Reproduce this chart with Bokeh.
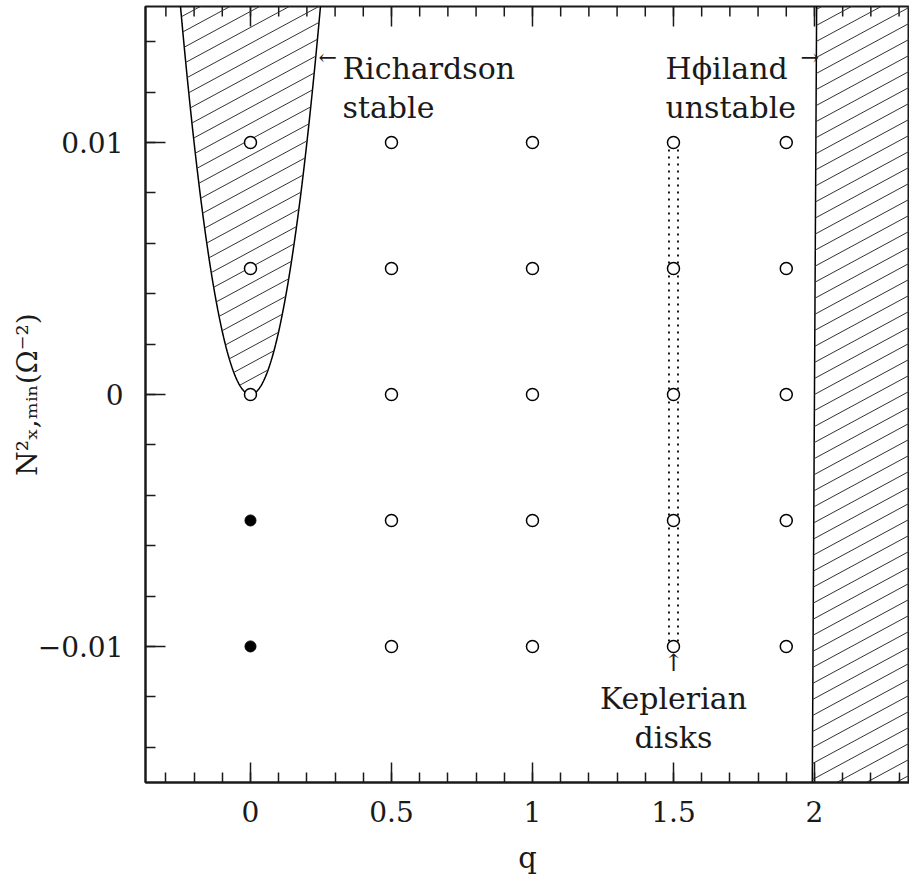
import numpy as np
from bokeh.plotting import figure
from bokeh.models import Range1d, FixedTicker, Label
from bokeh.embed import file_html
from bokeh.resources import INLINE

# ---- data ----
q_grid = [0, 0.5, 1, 1.5, 1.9]
n2_grid = [-0.01, -0.005, 0, 0.005, 0.01]
filled_q = [0, 0]
filled_n2 = [-0.005, -0.01]
x_ticks = [0, 0.5, 1, 1.5, 2]
x_tick_labels = ["0", "0.5", "1", "1.5", "2"]
y_ticks = [-0.01, 0, 0.01]
y_tick_labels = ["\u22120.01", "0", "0.01"]
kepler_q = 1.5
richardson_coeff = 0.25      # Richardson boundary: N^2 = q^2 / 4
hoiland_q0 = 2.0             # Hoiland boundary: q = 2 + N^2 / 2
hoiland_coeff = 0.5

X_MIN, X_MAX = -0.3723, 2.337
Y_MIN, Y_MAX = -0.0154, 0.0154
PX_PER_Y = 776.0 / (Y_MAX - Y_MIN)
FONT = "DejaVu Serif"
INK = "#1a1a1a"

p = figure(width=909, height=879, output_backend="svg", toolbar_location=None,
           x_range=Range1d(X_MIN, X_MAX), y_range=Range1d(Y_MIN, Y_MAX),
           min_border_left=145, min_border_right=0, min_border_top=6,
           min_border_bottom=97)
p.outline_line_color = INK
p.outline_line_width = 2
p.grid.visible = False
p.background_fill_color = "white"
p.border_fill_color = "white"

x_minor = [round(v, 2) for v in np.arange(-0.3, 2.41, 0.1)]
y_minor = [round(v, 4) for v in np.arange(-0.014, 0.0141, 0.002)]

def style_axis(ax, major, minor, labels):
    ax.ticker = FixedTicker(ticks=major, minor_ticks=minor)
    ax.major_tick_in = 20
    ax.major_tick_out = 0
    ax.minor_tick_in = 10
    ax.minor_tick_out = 0
    ax.axis_line_width = 2
    ax.axis_line_color = INK
    ax.major_tick_line_width = 1.5
    ax.major_tick_line_color = INK
    ax.minor_tick_line_width = 1.5
    ax.minor_tick_line_color = INK
    ax.major_label_text_font = FONT
    ax.major_label_text_font_size = "28px"
    ax.major_label_text_color = INK
    ax.major_label_overrides = {t: l for t, l in zip(major, labels)}
    ax.axis_label_text_font = FONT
    ax.axis_label_text_font_style = "normal"
    ax.axis_label_text_color = INK

xa = p.xaxis[0]
style_axis(xa, x_ticks, x_minor, x_tick_labels)
xa.major_label_standoff = 18
xa.axis_label = "q"
xa.axis_label_text_font_size = "29px"
xa.axis_label_standoff = 16

ya = p.yaxis[0]
style_axis(ya, y_ticks, y_minor, y_tick_labels)
ya.major_label_standoff = 22
ya.axis_label = "N\u00b2\u2093,\u2098\u1d62\u2099(\u03a9\u207b\u00b2)"
ya.axis_label_text_font_size = "28px"
ya.axis_label_standoff = -9

# top-edge ticks (inward), drawn from the same tick arrays
major_len = 20.0 / PX_PER_Y
minor_len = 10.0 / PX_PER_Y
p.segment(x0=x_ticks, y0=[Y_MAX] * len(x_ticks), x1=x_ticks,
          y1=[Y_MAX - major_len] * len(x_ticks), line_color=INK, line_width=1.5)
p.segment(x0=x_minor, y0=[Y_MAX] * len(x_minor), x1=x_minor,
          y1=[Y_MAX - minor_len] * len(x_minor), line_color=INK, line_width=1.5)

# ---- stability boundaries ----
qq = np.linspace(-0.3, 0.3, 200)
p.line(qq, richardson_coeff * qq ** 2, line_color="black", line_width=1.5)
nn = np.linspace(-0.02, 0.02, 50)
p.line(hoiland_q0 + hoiland_coeff * nn, nn, line_color="black", line_width=1.5)

# hatch lines (slope in data units, vertical spacing)
s = 0.54 * 282.0 / PX_PER_Y
dc = 16.0 / PX_PER_Y
xs, ys = [], []
for c in np.arange(-s * s + 1e-7, 0.03, dc):          # above the parabola
    r = 2 * np.sqrt(s * s + c)
    q1, q2 = 2 * s - r, 2 * s + r
    xs.append([q1, q2]); ys.append([c + s * q1, c + s * q2])
for c in np.arange(-0.03 - s * 2.5, 0.03, dc):        # right of Hoiland line
    q1 = (hoiland_q0 + hoiland_coeff * c) / (1 - hoiland_coeff * s)
    q2 = 2.6
    xs.append([q1, q2]); ys.append([c + s * q1, c + s * q2])
p.multi_line(xs, ys, line_color="#333333", line_width=1)

# Keplerian dotted guides
p.segment(x0=[kepler_q - 0.016, kepler_q + 0.016], y0=[n2_grid[-1]] * 2,
          x1=[kepler_q - 0.016, kepler_q + 0.016], y1=[n2_grid[0]] * 2,
          line_color="black", line_width=1.8, line_dash="2 5")

# ---- points ----
open_q, open_n2 = [], []
for qv in q_grid:
    for nv in n2_grid:
        if any(qv == fq and nv == fn for fq, fn in zip(filled_q, filled_n2)):
            continue
        open_q.append(qv); open_n2.append(nv)
p.scatter(open_q, open_n2, marker="circle", size=12, fill_color="white",
          line_color="black", line_width=1.5)
p.scatter(filled_q, filled_n2, marker="circle", size=11, fill_color="black",
          line_color="black", line_width=1)

# ---- annotations ----
def lab(x, y, text, size, align="left", baseline="alphabetic"):
    p.add_layout(Label(x=x, y=y, text=text, text_font=FONT,
                       text_font_size=size, text_align=align,
                       text_baseline=baseline, text_color=INK))

lab(0.2412, 0.01338, "\u2190", "22px", baseline="middle")
lab(0.3263, 0.01294, "Richardson", "30px")
lab(0.3263, 0.01139, "stable", "30px")
lab(1.4716, 0.01294, "H\u03d5iland", "30px")
lab(1.9504, 0.01338, "\u2192", "22px", baseline="middle")
lab(1.4716, 0.01139, "unstable", "30px")
lab(kepler_q, -0.01064, "\u2191", "24px", align="center", baseline="middle")
lab(kepler_q, -0.01207, "Keplerian", "30px", align="center")
lab(kepler_q, -0.01361, "disks", "30px", align="center")

open("out.html", "w").write(file_html(p, INLINE))
